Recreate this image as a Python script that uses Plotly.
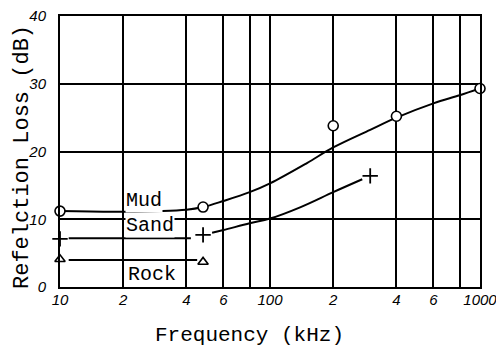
import plotly.graph_objects as go

# Reflection loss versus frequency for three sea-floor types
freq_ticks = [10, 20, 40, 60, 80, 100, 200, 400, 600, 800, 1000]
freq_tick_text = ["10", "2", "4", "6", "", "100", "2", "4", "6", "", "1000"]
loss_ticks = [0, 10, 20, 30, 40]

# measured points
mud_f = [10, 48, 200, 400, 1000]
mud_db = [11.2, 11.8, 23.8, 25.2, 29.3]
sand_f = [10, 48, 300]
sand_db = [7.1, 7.7, 16.4]
rock_f = [10, 48]
rock_db = [4.1, 3.7]

# fitted curves
mud_curve_f = [10, 20, 40, 48, 60, 80, 100, 150, 200, 300, 400, 600, 800, 1000]
mud_curve_db = [11.2, 11.1, 11.4, 11.8, 12.7, 14.0, 15.3, 18.3, 20.6, 23.2, 25.0, 27.1, 28.3, 29.3]
sand_left_f = [11.0, 42]
sand_left_db = [7.2, 7.2]
sand_curve_f = [53, 60, 80, 100, 140, 200, 275]
sand_curve_db = [8.0, 8.4, 9.4, 10.1, 11.8, 14.0, 15.9]
rock_line_f = [11.0, 45]
rock_line_db = [4.0, 4.0]

INK = "black"
MONO = "Liberation Mono, DejaVu Sans Mono, monospace"
fig = go.Figure()

line_style = dict(color=INK, width=2, shape="spline", smoothing=1.0)
for xs, ys in [(mud_curve_f, mud_curve_db), (sand_left_f, sand_left_db),
               (sand_curve_f, sand_curve_db), (rock_line_f, rock_line_db)]:
    fig.add_trace(go.Scatter(x=xs, y=ys, mode="lines", line=line_style,
                             showlegend=False, hoverinfo="skip"))

fig.add_trace(go.Scatter(x=mud_f, y=mud_db, mode="markers", name="Mud",
                         marker=dict(symbol="circle", size=10, color="white",
                                     line=dict(color=INK, width=1.6)),
                         showlegend=False, cliponaxis=False))
fig.add_trace(go.Scatter(x=sand_f, y=sand_db, mode="markers", name="Sand",
                         marker=dict(symbol="cross-thin", size=11, color=INK,
                                     line=dict(color=INK, width=1.8)),
                         showlegend=False, cliponaxis=False))
fig.add_trace(go.Scatter(x=rock_f, y=rock_db, mode="markers", name="Rock",
                         marker=dict(symbol="triangle-up", size=9, color="white",
                                     line=dict(color=INK, width=1.6)),
                         showlegend=False, cliponaxis=False))

L, R, T, B = 60, 16, 16, 60
W, H = 496, 347
pw, ph = W - L - R, H - T - B


def px(x):
    return (x - L) / pw


def py(y):
    return (H - B - y) / ph


label_font = dict(family=MONO, size=20, color=INK)
for text, x0, y0 in [("Mud", 125, 200), ("Sand", 125, 226), ("Rock", 127, 274)]:
    fig.add_annotation(text=text, xref="paper", yref="paper", x=px(x0), y=py(y0),
                       xanchor="left", yanchor="middle", showarrow=False,
                       font=label_font, bgcolor="white", borderpad=0)

fig.add_annotation(text="Frequency (kHz)", xref="paper", yref="paper",
                   x=px(249), y=py(335), xanchor="center", yanchor="middle",
                   showarrow=False, font=dict(family=MONO, size=21, color=INK))
fig.add_annotation(text="Refelction Loss (dB)", xref="paper", yref="paper",
                   x=px(22), y=py(157), xanchor="center", yanchor="middle",
                   textangle=-90, showarrow=False,
                   font=dict(family=MONO, size=22, color=INK))

tick_font = dict(family="Liberation Sans, Arial, sans-serif", size=15, color=INK, style="italic")
fig.update_xaxes(type="log", range=[1, 3], tickvals=freq_ticks, ticktext=freq_tick_text,
                 showgrid=True, gridcolor=INK, gridwidth=1.8, zeroline=False,
                 showline=True, linecolor=INK, linewidth=2, mirror=True, automargin=False,
                 ticks="", tickfont=tick_font, ticklabelstandoff=-2,
                 ticklabeloverflow="allow")
fig.update_yaxes(range=[0, 40], tickvals=loss_ticks, ticktext=[str(v) for v in loss_ticks],
                 showgrid=True, gridcolor=INK, gridwidth=1.8, zeroline=False,
                 showline=True, linecolor=INK, linewidth=2, mirror=True, automargin=False,
                 ticks="", tickfont=tick_font, ticklabelstandoff=9,
                 ticklabeloverflow="allow")

fig.update_layout(width=W, height=H, margin=dict(l=L, r=R, t=T, b=B),
                  paper_bgcolor="white", plot_bgcolor="white", showlegend=False)

fig.write_html("out.html")
